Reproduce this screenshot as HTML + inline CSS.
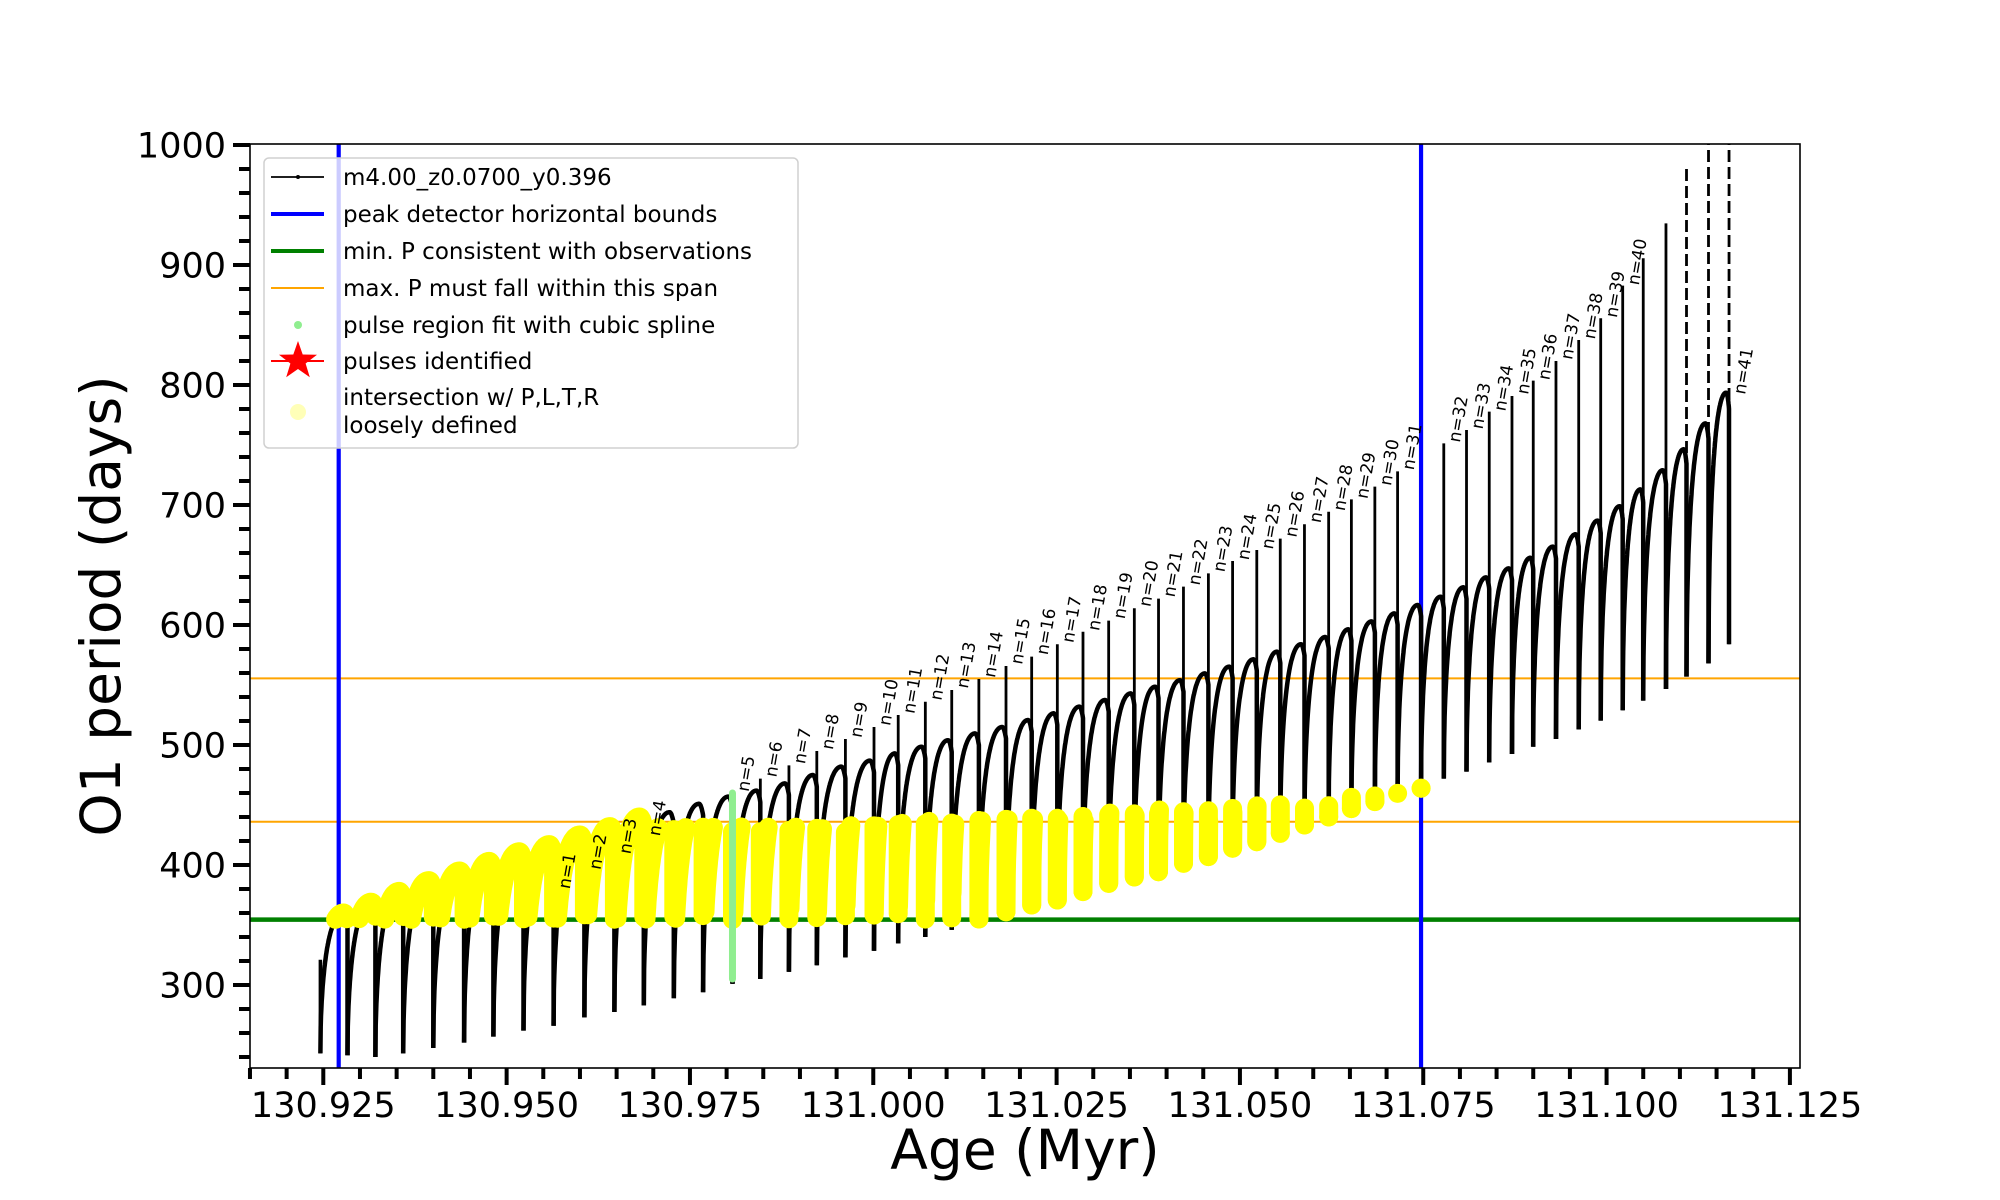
<!DOCTYPE html>
<html><head><meta charset="utf-8"><style>
html,body{margin:0;padding:0;background:#fff;}
svg{display:block;font-family:"DejaVu Sans","Liberation Sans",sans-serif;}
</style></head><body>
<svg id="chart" width="2000" height="1200" viewBox="0 0 2000 1200" xmlns="http://www.w3.org/2000/svg">
<defs><clipPath id="plotclip"><rect x="250" y="144" width="1550" height="924"/></clipPath></defs>
<rect x="0" y="0" width="2000" height="1200" fill="#fff"/>
<g id="refs" clip-path="url(#plotclip)"></g>
<g id="data" clip-path="url(#plotclip)"></g>
<g id="yel" clip-path="url(#plotclip)"></g>
<g id="grn" clip-path="url(#plotclip)"></g>
<g id="labs"></g>
<rect x="250" y="144" width="1550" height="924" fill="none" stroke="#000" stroke-width="1.6"/>
<g id="axes"></g>
<text x="1025" y="1169" font-size="55" text-anchor="middle">Age (Myr)</text>
<text transform="translate(120,606) rotate(-90)" font-size="55" text-anchor="middle">O1 period (days)</text>
<g>
<rect x="264" y="158" width="534" height="290" rx="5" fill="rgba(255,255,255,0.8)" stroke="#d0d0d0" stroke-width="1.5"/>
<g font-size="23" fill="#000">
<line x1="271" y1="177" x2="324" y2="177" stroke="#000" stroke-width="1.8"/>
<circle cx="298" cy="177" r="2" fill="#000"/>
<text x="343" y="185">m4.00_z0.0700_y0.396</text>
<line x1="271" y1="214" x2="324" y2="214" stroke="#0000ff" stroke-width="4"/>
<text x="343" y="222">peak detector horizontal bounds</text>
<line x1="271" y1="251" x2="324" y2="251" stroke="#008000" stroke-width="4"/>
<text x="343" y="259">min. P consistent with observations</text>
<line x1="271" y1="288" x2="324" y2="288" stroke="#ffa500" stroke-width="2"/>
<text x="343" y="296">max. P must fall within this span</text>
<circle cx="298" cy="325" r="4" fill="#90ee90"/>
<text x="343" y="333">pulse region fit with cubic spline</text>
<line x1="271" y1="361" x2="324" y2="361" stroke="#ff0000" stroke-width="2"/>
<polygon points="298,341 302.7,354.5 317,354.8 305.6,363.5 309.8,377.2 298,369 286.2,377.2 290.4,363.5 279,354.8 293.3,354.5" fill="#ff0000"/>
<text x="343" y="369">pulses identified</text>
<circle cx="298" cy="412" r="8" fill="#ffffb8"/>
<text x="343" y="405">intersection w/ P,L,T,R</text>
<text x="343" y="433">loosely defined</text>
</g></g>
</svg>
<script>
// ---- data ----
const dropAges = [130.9246,130.9283,130.9321,130.9359,130.9400,130.9442,130.9482,130.9523,130.9564,130.9606,130.9647,130.9687,130.9728,130.9768,130.9808,130.9846,130.9885,130.9923,130.9962,131.0001,131.0034,131.0071,131.0107,131.0144,131.0181,131.0216,131.0251,131.0286,131.0321,131.0356,131.0389,131.0423,131.0457,131.0490,131.0523,131.0555,131.0588,131.0621,131.0652,131.0684,131.0715,131.0747,131.0778,131.0809,131.0840,131.0871,131.0900,131.0931,131.0962,131.0992,131.1022,131.1050,131.1081,131.1109,131.1139,131.1167];
const peakPeriods = [321,360,369,378,387,395,403,411,417,425,432,440,444,451,457,462,468,475,482,487,493,498.6,504,509.7,515,520.8,526.4,532,537.5,543,548.6,554,559.7,565.3,571.4,577.8,584,590,596.4,603,609.7,616.7,623.6,631.4,639.7,647.2,656,665.3,675.6,687,699,713,729,746.4,768,793.6];
const minPeriods = [243,241.4,240,243,247.5,252,257,262,266,273,277.5,283,289,294,301,305,311,316.5,323,328.5,334.7,340,346,355,361,366.7,370.8,377.8,384.7,390,394.4,401.4,407,414,419.4,426.4,433.3,440,447,452.8,459.7,464,472,477.8,485.5,492.5,498.6,505,513,520.3,529,537,546.7,557,568,584];
const spikeTops = [null,null,null,null,null,null,null,null,null,null,null,null,null,null,461,472,483,495,505,515,525,536,545.8,555,565.8,573.6,584,594.4,603.6,614,622,632,643,653.3,662.5,672,684,694.4,704.7,715.3,728,null,751.4,762.5,777.8,790.8,803.6,820,837.5,855.6,882.8,905.6,934.7,980,1010,1010];
const pulseNumbers = [null,null,null,null,null,null,null,null,1,2,3,4,null,null,5,6,7,8,9,10,11,12,13,14,15,16,17,18,19,20,21,22,23,24,25,26,27,28,29,30,31,null,32,33,34,35,36,37,38,39,40,null,null,null,null,41];
const labelPeriods = [null,null,null,null,null,null,null,null,378,394,407,422,null,null,459,471,482,494,504,514,524,535,545,554,565,573,583,593,603,613,621,631,642,652,661,671,683,693,703,714,727,null,750,761,776,790,802,819,836,854,881,null,null,null,null,790];
const yellowTops = [440,440,440,440,440,440,440,440,440,440,440,432,432,432,432,432,432,432,433,434,436,437,438,439,440,441,442,443,444,445,446,448,448,448,452,451,454,458,460,458,467,465];
const splineRange = [305, 460];
const minP = 354.5, maxPLow = 436, maxPHigh = 555.5;
const peakBounds = [130.9271, 131.0747];
const xTicks = [130.925,130.950,130.975,131.000,131.025,131.050,131.075,131.100,131.125];
const xTickLabels = ["130.925","130.950","130.975","131.000","131.025","131.050","131.075","131.100","131.125"];
const yTicks = [300,400,500,600,700,800,900,1000];
const yTickLabels = ["300","400","500","600","700","800","900","1000"];

// ---- axis functions ----
function X(a){ return 323.3 + (a - 130.925) * 7333; }
function Y(v){ return 985 - (v - 300) * 1.2; }
const NS = "http://www.w3.org/2000/svg";
function mk(tag, attrs, parent){ const e = document.createElementNS(NS, tag); for (const k in attrs) e.setAttribute(k, attrs[k]); parent.appendChild(e); return e; }

// reference lines
const refs = document.getElementById('refs');
let el;
el = mk('line', {x1:250, x2:1800, y1:Y(maxPHigh), y2:Y(maxPHigh), stroke:'#ffa500', 'stroke-width':2}, refs);


el = mk('line', {x1:250, x2:1800, y1:Y(maxPLow), y2:Y(maxPLow), stroke:'#ffa500', 'stroke-width':2}, refs);


el = mk('line', {x1:250, x2:1800, y1:Y(minP), y2:Y(minP), stroke:'#008000', 'stroke-width':4.5}, refs);


peakBounds.forEach(function(a){
  const l = mk('line', {x1:X(a), x2:X(a), y1:144, y2:1068, stroke:'#0000ff', 'stroke-width':4.2}, refs);
  
  
});

// curve shape within a cycle
function shape(u){
  const um = 0.86;
  if (u < um) return Math.sin(Math.PI / 2 * Math.sqrt(u / um));
  const w = (u - um) / (1 - um);
  return 1 - 0.06 * w * w;
}
function arcPoints(c){
  const t0 = dropAges[c], t1 = dropAges[c + 1];
  const b = minPeriods[c], p = peakPeriods[c + 1], b2 = minPeriods[c + 1];
  const pts = [[t0, b]];
  const N = 80;
  for (let k = 1; k <= N; k++){
    const u = k / N;
    pts.push([t0 + (t1 - t0) * u, b + (p - b) * shape(u)]);
  }
  const last = pts[pts.length - 1][1];
  for (let k = 1; k <= 30; k++) pts.push([t1, last + (b2 - last) * k / 30]);
  return pts;
}
function toD(pts){
  return pts.map(function(q, i){ return (i ? 'L' : 'M') + X(q[0]).toFixed(1) + ',' + Y(q[1]).toFixed(1); }).join(' ');
}

const dataG = document.getElementById('data');
const yelG = document.getElementById('yel');
el = mk('line', {x1:X(dropAges[0]), x2:X(dropAges[0]), y1:Y(peakPeriods[0]), y2:Y(minPeriods[0]), stroke:'#000', 'stroke-width':3.5}, dataG);


for (let c = 0; c < dropAges.length - 1; c++){
  const pts = arcPoints(c);
  const p = mk('path', {d:toD(pts), fill:'none', stroke:'#000', 'stroke-width':4.5, 'stroke-linejoin':'round'}, dataG);
  
  
  if (c < yellowTops.length){
    const top = yellowTops[c];
    let run = [];
    const runs = [];
    pts.forEach(function(q){
      if (q[1] >= minP && q[1] <= top) run.push(q);
      else { if (run.length) runs.push(run); run = []; }
    });
    if (run.length) runs.push(run);
    runs.forEach(function(r){
      if (r.length === 1) r = [r[0], r[0]];
      const yp = mk('path', {d:toD(r), fill:'none', stroke:'#ffff00', 'stroke-width':19, 'stroke-linecap':'round', 'stroke-linejoin':'round'}, yelG);
      
      
    });
  }
}
// spikes
for (let c = 0; c < dropAges.length; c++){
  if (spikeTops[c] === null) continue;
  const s = mk('line', {x1:X(dropAges[c]), x2:X(dropAges[c]), y1:Y(spikeTops[c]), y2:Y(minPeriods[c]), stroke:'#000', 'stroke-width':2.8, 'stroke-dasharray':c >= 53 ? '12,5' : 'none'}, dataG);
  
  
}
// spline fit region (n=5)
const grn = document.getElementById('grn');
el = mk('line', {x1:X(dropAges[14]), x2:X(dropAges[14]), y1:Y(splineRange[1]), y2:Y(splineRange[0]), stroke:'#90ee90', 'stroke-width':7, 'stroke-linecap':'round'}, grn);



// pulse labels
const labs = document.getElementById('labs');
for (let c = 0; c < dropAges.length; c++){
  if (pulseNumbers[c] === null) continue;
  const x = X(dropAges[c]) + 16, y = Y(labelPeriods[c]) - 2;
  const t = mk('text', {x:x, y:y, 'font-size':17, transform:'rotate(-80 ' + x.toFixed(1) + ' ' + y.toFixed(1) + ')'}, labs);
  t.textContent = 'n=' + pulseNumbers[c];
  
  
}

// axes ticks
const axes = document.getElementById('axes');
for (let a = 130.915; a <= 131.1261; a += 0.005){
  const major = xTicks.some(function(v){ return Math.abs(v - a) < 1e-6; });
  const tk = mk('line', {x1:X(a), x2:X(a), y1:1068, y2:1068 + (major ? 17 : 11), stroke:'#000', 'stroke-width':4}, axes);
  
  
}
xTicks.forEach(function(v, i){
  const t = mk('text', {x:X(v), y:1117, 'font-size':35, 'text-anchor':'middle'}, axes);
  t.textContent = xTickLabels[i];
  
  
});
for (let v = 240; v <= 1000; v += 20){
  const major = yTicks.indexOf(v) >= 0;
  const tk = mk('line', {x1:250 - (major ? 17 : 11), x2:250, y1:Y(v), y2:Y(v), stroke:'#000', 'stroke-width':4}, axes);
  
  
}
yTicks.forEach(function(v, i){
  const t = mk('text', {x:226, y:Y(v) + 12.5, 'font-size':35, 'text-anchor':'end'}, axes);
  t.textContent = yTickLabels[i];
  
  
});
</script>
</body></html>
